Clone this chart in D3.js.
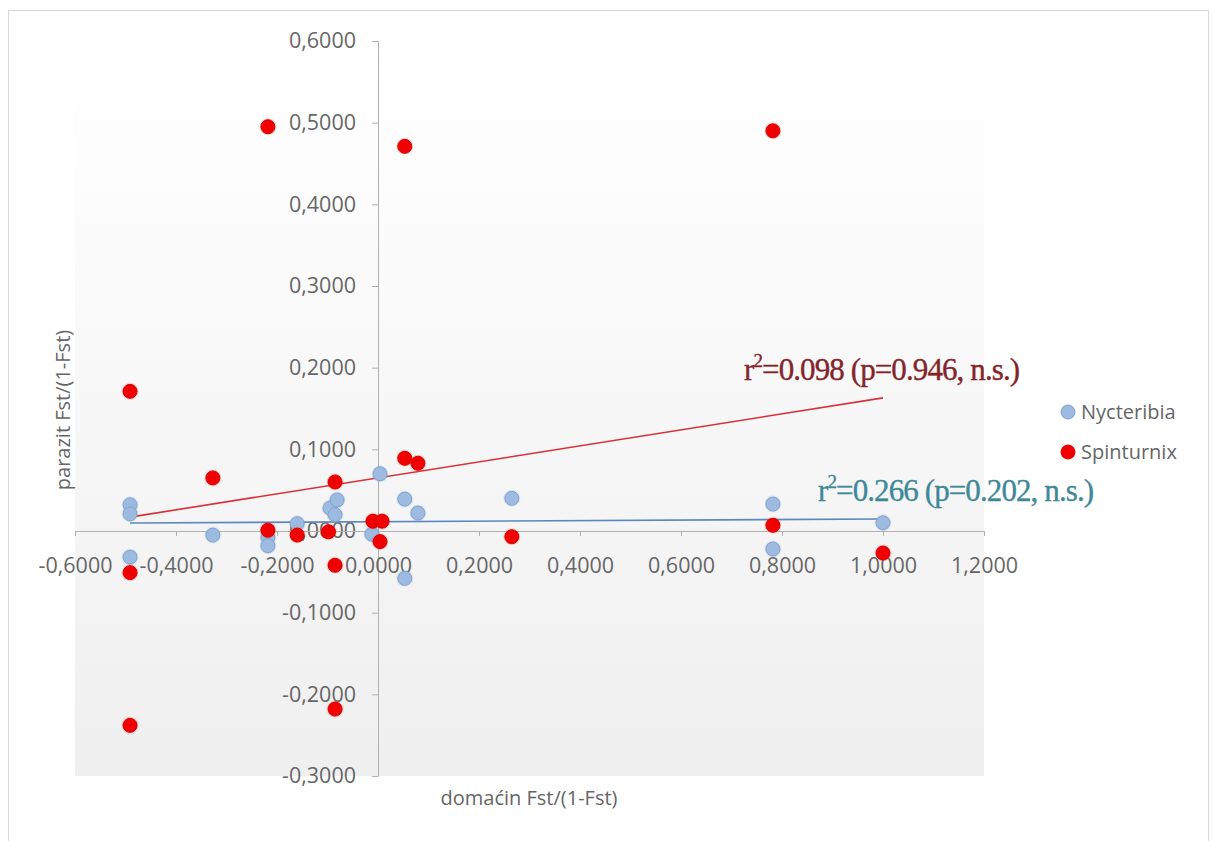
<!DOCTYPE html>
<html>
<head>
<meta charset="utf-8">
<script src="https://cdn.jsdelivr.net/npm/d3@7"></script>
<style>
  html, body { margin: 0; padding: 0; background: #ffffff; }
  svg { display: block; }
</style>
</head>
<body>
<svg id="chart" width="1212" height="841"></svg>
<script>
// ---------------- data ----------------
const xTicks = [-0.6, -0.4, -0.2, 0.0, 0.2, 0.4, 0.6, 0.8, 1.0, 1.2];
const yTicks = [-0.3, -0.2, -0.1, 0.0, 0.1, 0.2, 0.3, 0.4, 0.5, 0.6];

const seriesNames = ["Nycteribia", "Spinturnix"];

// Nycteribia (blue)
const nycX = [-0.491, -0.491, -0.491, -0.327, -0.218, -0.218, -0.160, -0.095, -0.085, -0.081,
              0.004, -0.012, 0.053, 0.053, 0.079, 0.265, 0.782, 0.782, 1.000];
const nycY = [0.032, 0.021, -0.032, -0.005, -0.008, -0.018, 0.009, 0.028, 0.020, 0.038,
              0.070, -0.004, 0.039, -0.058, 0.022, 0.040, 0.033, -0.022, 0.010];

// Spinturnix (red)
const spinX = [-0.491, -0.491, -0.491, -0.327, -0.218, -0.218, -0.160, -0.098, -0.085, -0.085,
               -0.085, -0.010, 0.008, 0.004, 0.053, 0.053, 0.079, 0.265, 0.782, 0.782, 1.000];
const spinY = [0.171, -0.051, -0.238, 0.065, 0.495, 0.001, -0.005, -0.001, 0.060, -0.042,
               -0.218, 0.012, 0.012, -0.013, 0.471, 0.089, 0.083, -0.007, 0.490, 0.007, -0.027];

// Linear trendlines (endpoints)
const trendX = [-0.491, 1.000];
const nycTrendY = [0.0098, 0.0147];
const spinTrendY = [0.017, 0.163];

const annotations = ["0.098 (p=0.946, n.s.)", "0.266 (p=0.202, n.s.)"];
const xTitle = "domaćin Fst/(1-Fst)";
const yTitle = "parazit Fst/(1-Fst)";

// ---------------- drawing ----------------
const svg = d3.select("#chart");
const x = d3.scaleLinear().domain([-0.6, 1.2]).range([75, 984]);
const y = d3.scaleLinear().domain([-0.3, 0.6]).range([776, 41]);

const loc = d3.formatLocale({decimal: ",", thousands: ".", grouping: [3], currency: ["", ""], minus: "-"});
const fmt = loc.format(".4f");

const labelFont = "'Open Sans', 'Noto Sans', sans-serif";
const labelColor = "#666666";

// chart border
svg.append("rect").attr("x", 8.5).attr("y", 10.5).attr("width", 1200).attr("height", 840)
  .attr("fill", "#ffffff").attr("stroke", "#d9d9d9").attr("stroke-width", 1);

// plot area gradient
const defs = svg.append("defs");
const grad = defs.append("linearGradient").attr("id", "bg").attr("x1", 0).attr("y1", 0).attr("x2", 0).attr("y2", 1);
grad.append("stop").attr("offset", "0%").attr("stop-color", "#ffffff");
grad.append("stop").attr("offset", "15%").attr("stop-color", "#fdfdfd");
grad.append("stop").attr("offset", "100%").attr("stop-color", "#efefef");

svg.append("rect")
  .attr("x", x(-0.6)).attr("y", y(0.6))
  .attr("width", x(1.2) - x(-0.6)).attr("height", y(-0.3) - y(0.6))
  .attr("fill", "url(#bg)");

// y axis
const yAxis = d3.axisLeft(y).tickValues(yTicks).tickFormat(fmt).tickSize(6).tickSizeOuter(0).tickPadding(16);
const gy = svg.append("g").attr("transform", `translate(${x(0)},0)`).call(yAxis);
gy.select(".domain").attr("stroke", "#b0b0b0");
gy.selectAll(".tick line").attr("stroke", "#b0b0b0");
gy.selectAll(".tick text").attr("font-family", labelFont).attr("font-size", 21.5).attr("fill", labelColor);

// x axis
const xAxis = d3.axisBottom(x).tickValues(xTicks).tickFormat(fmt).tickSize(5).tickSizeOuter(0).tickPadding(22);
const gx = svg.append("g").attr("transform", `translate(0,${y(0)})`).call(xAxis);
gx.select(".domain").attr("stroke", "#b0b0b0");
gx.selectAll(".tick line").attr("stroke", "#b0b0b0");
gx.selectAll(".tick text").attr("font-family", labelFont).attr("font-size", 21.5).attr("fill", labelColor);

// trendlines
const line = d3.line().x(d => x(d[0])).y(d => y(d[1]));
svg.append("path").datum(d3.zip(trendX, nycTrendY)).attr("d", line)
  .attr("fill", "none").attr("stroke", "#5b87bf").attr("stroke-width", 1.6);
svg.append("path").datum(d3.zip(trendX, spinTrendY)).attr("d", line)
  .attr("fill", "none").attr("stroke", "#d8303a").attr("stroke-width", 1.6);

// points
const nycPts = d3.zip(nycX, nycY);
const spinPts = d3.zip(spinX, spinY);

const gN = svg.append("g");
gN.selectAll("circle.halo").data(nycPts).join("circle").attr("class", "halo")
  .attr("cx", d => x(d[0])).attr("cy", d => y(d[1])).attr("r", 8.5)
  .attr("fill", "rgba(120,160,210,0.18)");
gN.selectAll("circle.pt").data(nycPts).join("circle").attr("class", "pt")
  .attr("cx", d => x(d[0])).attr("cy", d => y(d[1])).attr("r", 7)
  .attr("fill", "#9dbbe0").attr("stroke", "#80a3d0").attr("stroke-width", 1);

const gS = svg.append("g");
gS.selectAll("circle.halo").data(spinPts).join("circle").attr("class", "halo")
  .attr("cx", d => x(d[0])).attr("cy", d => y(d[1])).attr("r", 8.5)
  .attr("fill", "rgba(255,60,60,0.2)");
gS.selectAll("circle.pt").data(spinPts).join("circle").attr("class", "pt")
  .attr("cx", d => x(d[0])).attr("cy", d => y(d[1])).attr("r", 7)
  .attr("fill", "#f00000").attr("stroke", "#d80000").attr("stroke-width", 1);

// annotations
const ann = [
  {text: annotations[0], x: 744, y: 380, color: "#84242a"},
  {text: annotations[1], x: 818, y: 501, color: "#3f8898"}
];
ann.forEach(a => {
  const t = svg.append("text").attr("x", a.x).attr("y", a.y)
    .attr("font-family", "'Liberation Serif', 'Times New Roman', serif")
    .attr("font-size", 31).attr("fill", a.color)
    .attr("stroke", a.color).attr("stroke-width", 0.35)
    .attr("letter-spacing", -0.9);
  t.append("tspan").text("r");
  t.append("tspan").attr("dy", -13).attr("font-size", 19).text("2");
  t.append("tspan").attr("dy", 13).text("=" + a.text);
});

// legend
const legend = [
  {name: seriesNames[0], y: 412, fill: "#9dbbe0", stroke: "#80a3d0"},
  {name: seriesNames[1], y: 452, fill: "#f00000", stroke: "#d80000"}
];
legend.forEach(l => {
  svg.append("circle").attr("cx", 1068).attr("cy", l.y).attr("r", 7)
    .attr("fill", l.fill).attr("stroke", l.stroke);
  svg.append("text").attr("x", 1081).attr("y", l.y).attr("dy", "0.36em")
    .attr("font-family", labelFont).attr("font-size", 20).attr("fill", labelColor).text(l.name);
});

// axis titles
svg.append("text").attr("x", 529).attr("y", 805).attr("text-anchor", "middle")
  .attr("font-family", labelFont).attr("font-size", 20).attr("fill", labelColor).text(xTitle);
svg.append("text").attr("transform", "translate(70,410) rotate(-90)").attr("text-anchor", "middle")
  .attr("font-family", labelFont).attr("font-size", 20).attr("fill", labelColor).text(yTitle);
</script>
</body>
</html>
